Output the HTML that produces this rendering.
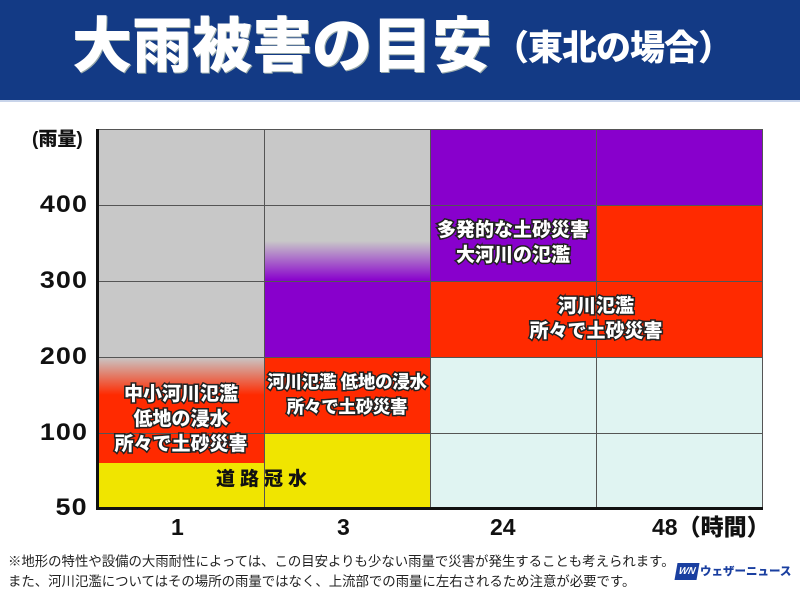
<!DOCTYPE html>
<html><head><meta charset="utf-8"><style>
body{margin:0;width:800px;height:600px;background:#fff;font-family:"Liberation Sans","Noto Sans CJK JP",sans-serif;position:relative;overflow:hidden}
.hdr{position:absolute;left:0;top:0;width:800px;height:100px;background:#133a85;border-bottom:2px solid #c8d4ea}
.t1{position:absolute;left:72px;top:12px;color:#fff;font-weight:900;font-size:60px;line-height:70px;letter-spacing:0px;white-space:nowrap;text-shadow:1px 1px 0 #9aa}
.t2{position:absolute;left:494px;top:28px;color:#fff;font-weight:900;font-size:35px;line-height:42px;white-space:nowrap;letter-spacing:-1px}
.c{position:absolute}
.yl{position:absolute;right:712px;font-weight:900;font-size:24px;color:#111;line-height:24px;letter-spacing:1px;transform:scaleX(1.12);transform-origin:right center}
.xl{position:absolute;top:514px;font-weight:900;font-size:23px;color:#111;line-height:26px;white-space:nowrap}
.lab{position:absolute;color:#fff;font-weight:900;font-size:19px;line-height:25px;text-align:center;white-space:nowrap;paint-order:stroke fill;-webkit-text-stroke:3px #222}
.vl{position:absolute;width:1px;background:#555;top:129px;height:379px}
.hl{position:absolute;height:1px;background:#555;left:98px;width:664px}
.note{position:absolute;left:8px;font-size:13.4px;color:#222;line-height:20px;white-space:nowrap}
</style></head><body>
<div class="hdr"></div>
<div class="t1">大雨被害の目安</div>
<div class="t2">（東北の場合）</div>

<div class="c" style="left:98px;top:129px;width:166px;height:228px;background:#c8c8c8"></div>
<div class="c" style="left:98px;top:357px;width:166px;height:106px;background:linear-gradient(#c8c8c8 0px,#ff2a00 38px,#ff2a00)"></div>
<div class="c" style="left:98px;top:463px;width:166px;height:45px;background:#f0e500"></div>
<div class="c" style="left:264px;top:129px;width:166px;height:152px;background:linear-gradient(#c8c8c8 0px,#c8c8c8 112px,#8800cc 152px)"></div>
<div class="c" style="left:264px;top:281px;width:166px;height:76px;background:#8800cc"></div>
<div class="c" style="left:264px;top:357px;width:166px;height:76px;background:#ff2a00"></div>
<div class="c" style="left:264px;top:433px;width:166px;height:75px;background:#f0e500"></div>
<div class="c" style="left:430px;top:129px;width:166px;height:152px;background:#8800cc"></div>
<div class="c" style="left:430px;top:281px;width:166px;height:76px;background:#ff2a00"></div>
<div class="c" style="left:430px;top:357px;width:166px;height:151px;background:#e0f4f2"></div>
<div class="c" style="left:596px;top:129px;width:166px;height:76px;background:#8800cc"></div>
<div class="c" style="left:596px;top:205px;width:166px;height:152px;background:#ff2a00"></div>
<div class="c" style="left:596px;top:357px;width:166px;height:151px;background:#e0f4f2"></div>

<div class="hl" style="top:129px"></div>
<div class="hl" style="top:205px"></div>
<div class="hl" style="top:281px"></div>
<div class="hl" style="top:357px"></div>
<div class="hl" style="top:433px"></div>
<div class="vl" style="left:264px"></div>
<div class="vl" style="left:430px"></div>
<div class="vl" style="left:596px"></div>
<div class="vl" style="left:762px"></div>
<div class="c" style="left:96px;top:129px;width:3px;height:381px;background:#111"></div>
<div class="c" style="left:96px;top:507px;width:667px;height:3px;background:#111"></div>

<div class="c" style="left:32px;top:128px;font-weight:900;font-size:19px;line-height:24px;color:#111;white-space:nowrap">(雨量)</div>
<div class="yl" style="top:193px">400</div>
<div class="yl" style="top:269px">300</div>
<div class="yl" style="top:345px">200</div>
<div class="yl" style="top:421px">100</div>
<div class="yl" style="top:496px">50</div>

<div class="xl" style="left:171px">1</div>
<div class="xl" style="left:337px">3</div>
<div class="xl" style="left:490px">24</div>
<div class="xl" style="left:652px">48（時間）</div>

<div class="lab" style="left:98px;width:166px;top:382px">中小河川氾濫<br>低地の浸水<br>所々で土砂災害</div>
<div class="lab" style="left:264px;width:166px;top:370px;font-size:17.5px;letter-spacing:-0.3px">河川氾濫 低地の浸水<br>所々で土砂災害</div>
<div class="lab" style="left:430px;width:166px;top:218px">多発的な土砂災害<br>大河川の氾濫</div>
<div class="lab" style="left:513px;width:166px;top:294px">河川氾濫<br>所々で土砂災害</div>
<div class="c" style="left:216px;top:467px;font-weight:900;font-size:19px;letter-spacing:5px;color:#111;line-height:26px">道路冠水</div>

<div class="note" style="top:552px">※地形の特性や設備の大雨耐性によっては、この目安よりも少ない雨量で災害が発生することも考えられます。</div>
<div class="note" style="top:572px">また、河川氾濫についてはその場所の雨量ではなく、上流部での雨量に左右されるため注意が必要です。</div>
<div class="c" style="left:676px;top:563px;width:22px;height:17px;background:#1a3fa0;color:#fff;font-size:10px;font-weight:900;font-style:italic;line-height:17px;text-align:center;transform:skewX(-10deg)">WN</div>
<div class="c" style="left:700px;top:562px;color:#1a3fa0;font-weight:900;font-size:11.5px;line-height:20px;white-space:nowrap">ウェザーニュース</div>
</body></html>
